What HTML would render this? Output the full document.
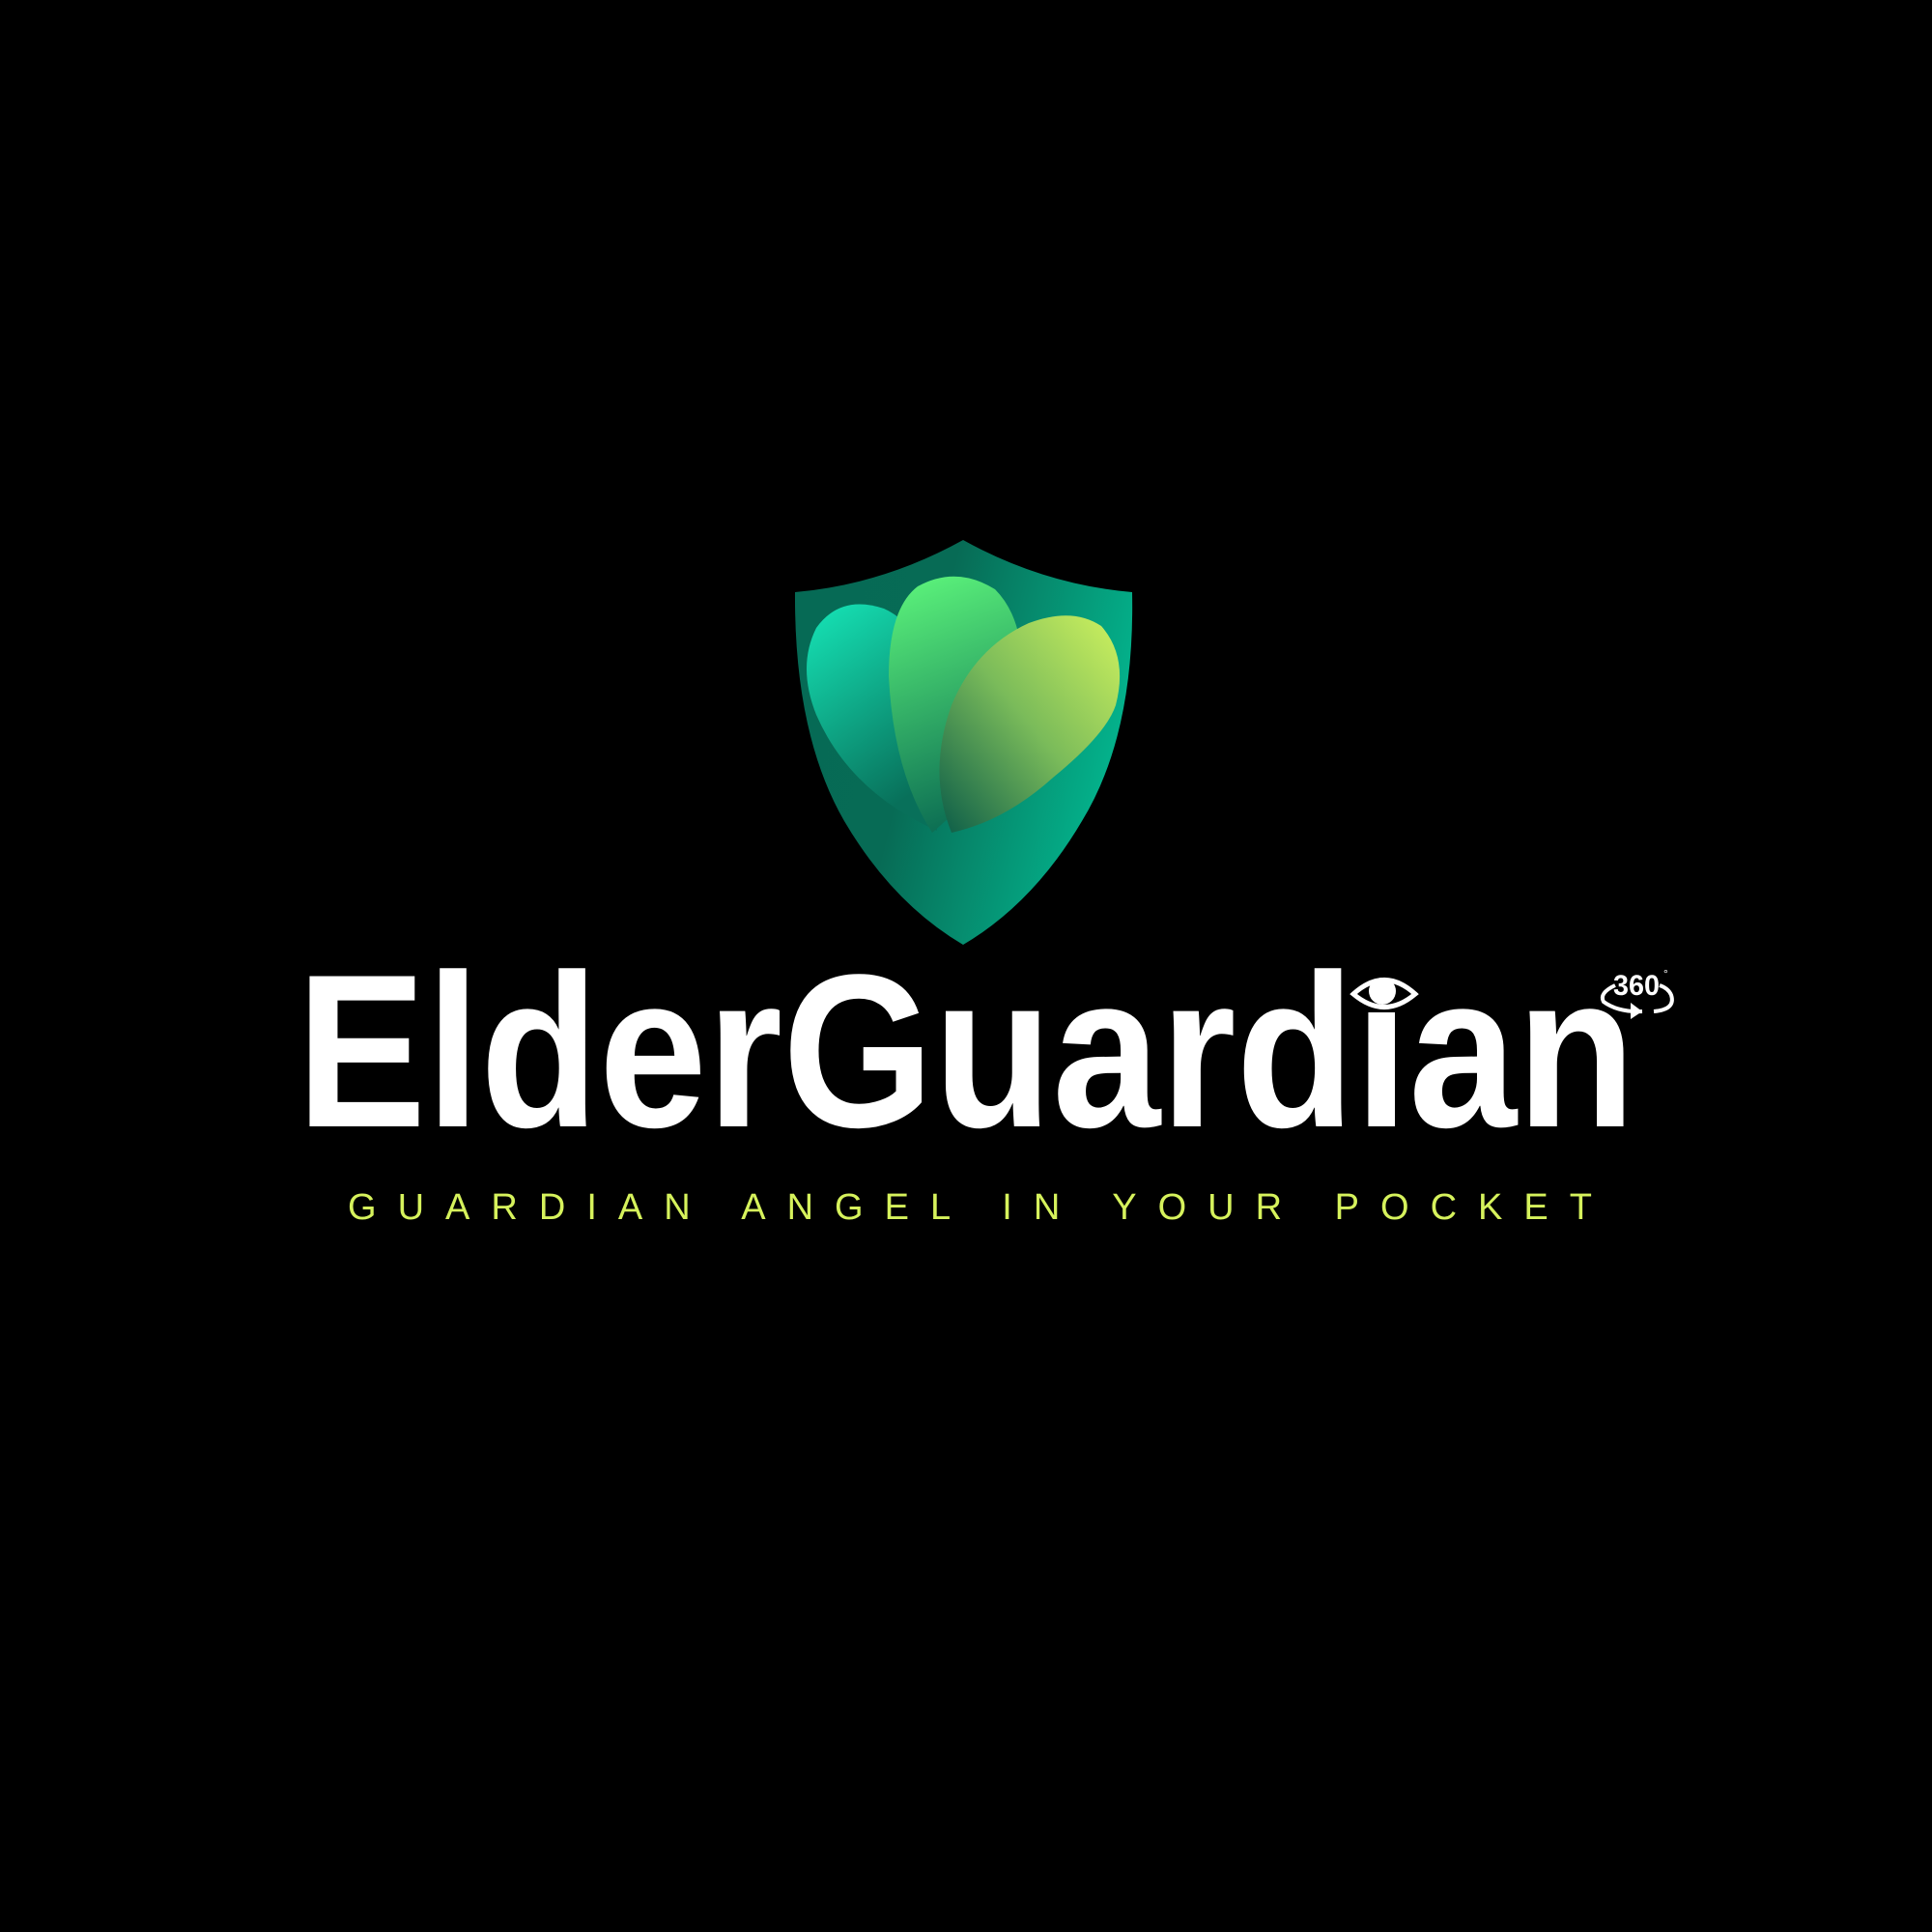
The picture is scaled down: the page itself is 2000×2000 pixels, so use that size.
<!DOCTYPE html>
<html><head><meta charset="utf-8"><style>
html,body{margin:0;padding:0;background:#000;}
svg{display:block}
</style></head><body>
<svg width="2000" height="2000" viewBox="0 0 2000 2000" xmlns="http://www.w3.org/2000/svg">
<defs>
<linearGradient id="shieldG" x1="0" y1="0" x2="1" y2="0.3">
<stop offset="0" stop-color="#066a55"/><stop offset="0.45" stop-color="#076b55"/><stop offset="1" stop-color="#04b08a"/>
</linearGradient>
<linearGradient id="leafL" x1="0" y1="0" x2="0.4" y2="1">
<stop offset="0" stop-color="#16e6b8"/><stop offset="1" stop-color="#08705a"/>
</linearGradient>
<linearGradient id="leafM" x1="0.3" y1="0" x2="0.5" y2="1">
<stop offset="0" stop-color="#5af07a"/><stop offset="1" stop-color="#0a6a52"/>
</linearGradient>
<linearGradient id="leafR" x1="1" y1="0" x2="0" y2="1">
<stop offset="0" stop-color="#cff25e"/><stop offset="0.5" stop-color="#7abb5a"/><stop offset="1" stop-color="#0b5c48"/>
</linearGradient>
</defs>
<rect width="2000" height="2000" fill="#000"/>
<g>
<path d="M997 559 Q1080 605 1172 613 Q1175 760 1120 850 Q1070 935 997 978 Q924 935 874 850 Q822 760 823 613 Q914 605 997 559 Z" fill="url(#shieldG)"/>
<path d="M970 860 Q880 820 845 740 Q825 690 845 650 Q870 615 915 630 Q950 645 960 700 Q965 780 970 860 Z" fill="url(#leafL)"/>
<path d="M965 862 Q925 800 920 700 Q920 630 950 607 Q990 585 1030 610 Q1060 640 1058 700 Q1050 790 965 862 Z" fill="url(#leafM)"/>
<path d="M985 862 Q960 800 985 730 Q1010 670 1065 645 Q1110 628 1140 648 Q1168 680 1155 730 Q1145 760 1090 805 Q1040 850 985 862 Z" fill="url(#leafR)"/>
</g>
<text x="307" y="1166" font-family="Liberation Sans, sans-serif" font-weight="bold" font-size="226" fill="#fff" textLength="1386" lengthAdjust="spacingAndGlyphs">ElderGuardian</text>
<rect x="1395" y="1000" width="80" height="48" fill="#000"/>
<g>
<path d="M1401 1029 Q1433 1000 1465 1029 Q1433 1056 1401 1029 Z" fill="none" stroke="#fff" stroke-width="5"/>
<circle cx="1431" cy="1026" r="14" fill="#fff"/>
</g>
<g>
<text x="1694" y="1030" text-anchor="middle" font-family="Liberation Sans, sans-serif" font-weight="bold" font-size="30" fill="#fff" textLength="48" lengthAdjust="spacingAndGlyphs">360</text>
<text x="1722" y="1012" font-family="Liberation Sans, sans-serif" font-size="12" fill="#fff">°</text>
<path d="M1672 1020 Q1655 1028 1660 1037 Q1675 1048 1700 1047 M1712 1047 Q1735 1045 1730 1030 Q1727 1023 1718 1020" fill="none" stroke="#fff" stroke-width="4"/>
<path d="M1688 1038 L1700 1047 L1688 1055 Z" fill="#fff"/>
</g>
<text x="360" y="1262" font-family="Liberation Sans, sans-serif" font-size="38" fill="#d6f25c" textLength="1288" lengthAdjust="spacing">GUARDIAN ANGEL IN YOUR POCKET</text>
</svg>
</body></html>
